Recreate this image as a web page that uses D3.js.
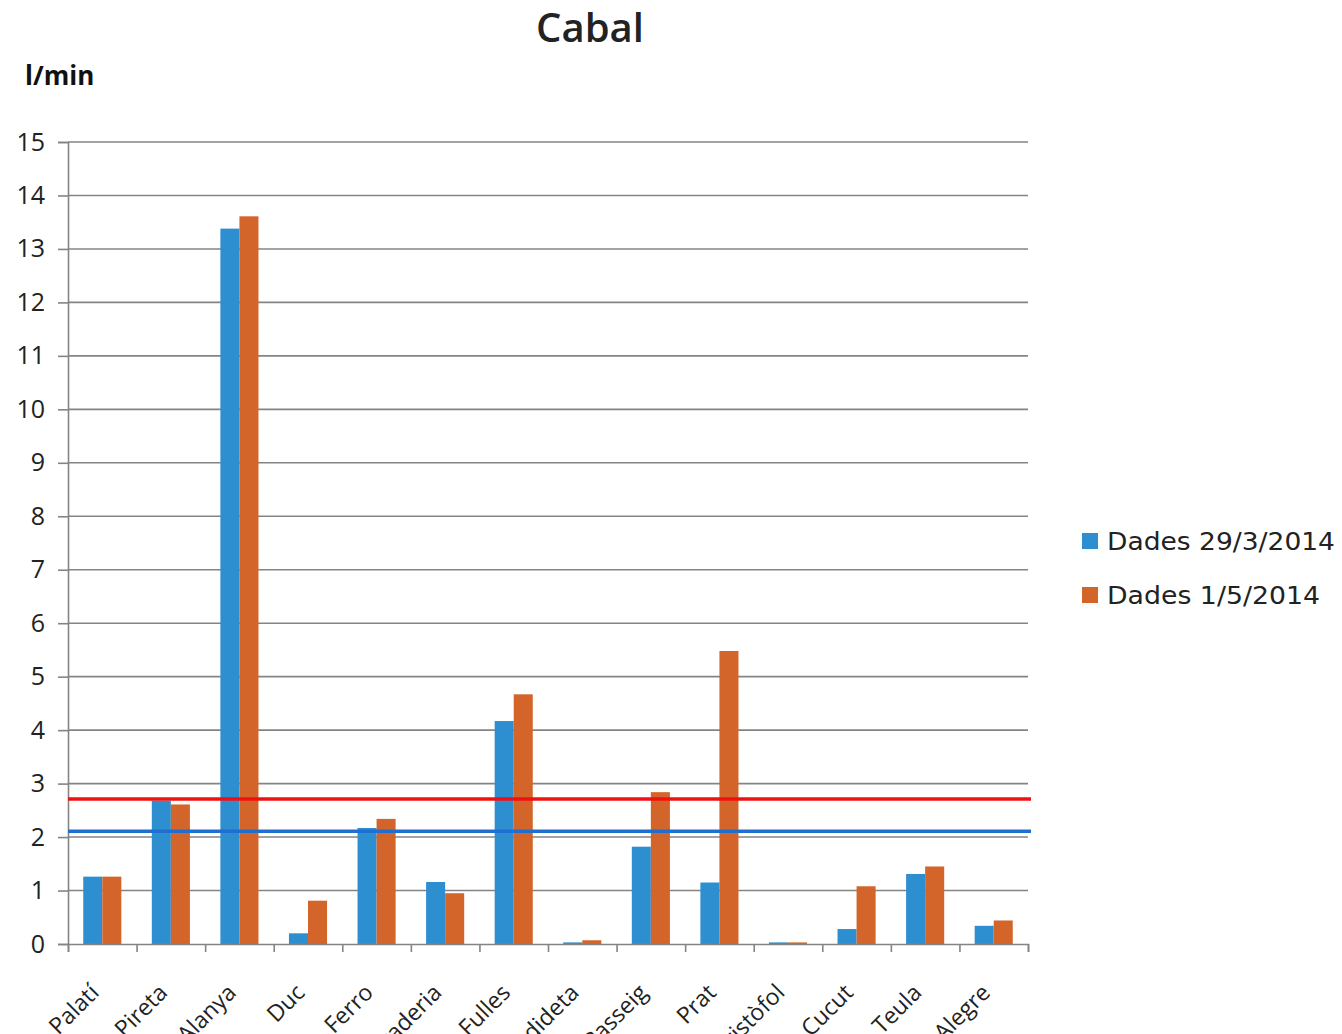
<!DOCTYPE html>
<html><head><meta charset="utf-8">
<script src="https://cdn.jsdelivr.net/npm/d3@7"></script>
<style>
html,body{margin:0;padding:0;background:#fff;overflow:hidden;}
svg{display:block;}
</style></head>
<body>
<svg id="c" width="1342" height="1034"></svg>
<script>
const categories = ["Palatí","Pireta","Alanya","Duc","Ferro","Bugaderia","Fulles","Candideta","Passeig","Prat","Cristòfol","Cucut","Teula","Alegre"];
const seriesNames = ["Dades 29/3/2014","Dades 1/5/2014"];
const values1 = [1.26,2.68,13.38,0.2,2.17,1.16,4.17,0.03,1.82,1.15,0.03,0.28,1.31,0.34];
const values2 = [1.26,2.61,13.61,0.81,2.34,0.95,4.67,0.07,2.84,5.48,0.03,1.08,1.45,0.44];
const refLines = [2.71,2.11];
const yTicks = [0,1,2,3,4,5,6,7,8,9,10,11,12,13,14,15];
const colors = ["#2E8FD0","#D4652A"];
const lineColors = ["#F01010","#1F6FD0"];

const svg = d3.select("#c");
const L=68, R=1028, T=142, B=944;
const y = d3.scaleLinear().domain([0,15]).range([B,T]);
const x0 = d3.scaleBand().domain(categories).range([L,R]).paddingInner(0).paddingOuter(0);
const x1 = d3.scaleBand().domain([0,1]).range([0,x0.bandwidth()]).paddingInner(0).paddingOuter(0.8);

// gridlines
svg.append("g").selectAll("line").data(yTicks.filter(d=>d>0)).join("line")
  .attr("x1",L).attr("x2",R).attr("y1",d=>y(d)).attr("y2",d=>y(d))
  .attr("stroke","#848484").attr("stroke-width",1.6);

// y axis
const yAxis = d3.axisLeft(y).tickValues(yTicks).tickSize(10).tickPadding(13).tickFormat(d3.format("d"));
const gy = svg.append("g").attr("transform",`translate(${L},0)`).call(yAxis);
gy.select(".domain").attr("stroke","#848484").attr("stroke-width",1.6);
gy.selectAll(".tick line").attr("stroke","#848484").attr("stroke-width",1.6);
gy.selectAll("text").attr("font-family","'Open Sans',sans-serif").attr("font-size",25).attr("fill","#222");

// bars
const data = categories.map((c,i)=>({c, v:[values1[i],values2[i]]}));
const groups = svg.append("g").selectAll("g").data(data).join("g")
  .attr("transform",d=>`translate(${x0(d.c)},0)`);
groups.selectAll("rect").data(d=>d.v.map((v,k)=>({v,k}))).join("rect")
  .attr("x",d=>x1(d.k)).attr("width",x1.bandwidth())
  .attr("y",d=>y(d.v)).attr("height",d=>y(0)-y(d.v))
  .attr("fill",d=>colors[d.k]);

// x axis
const xAxis = d3.axisBottom(d3.scaleLinear().domain([0,categories.length]).range([L,R]))
  .tickValues(d3.range(0,categories.length+1)).tickSize(8).tickFormat("");
const gx = svg.append("g").attr("transform",`translate(0,${B})`).call(xAxis);
gx.select(".domain").attr("stroke","#848484").attr("stroke-width",1.6);
gx.selectAll(".tick line").attr("stroke","#848484").attr("stroke-width",1.6);

svg.append("g").selectAll("text").data(categories).join("text")
  .attr("transform",d=>`translate(${x0(d)+x0.bandwidth()/2-2},${B+50}) rotate(-45)`)
  .attr("text-anchor","end")
  .attr("font-family","'Open Sans',sans-serif").attr("font-size",23).attr("fill","#222")
  .text(d=>d);

// reference lines
svg.append("g").selectAll("line").data(refLines).join("line")
  .attr("x1",L).attr("x2",R+3).attr("y1",d=>y(d)).attr("y2",d=>y(d))
  .attr("stroke",(d,i)=>lineColors[i]).attr("stroke-width",3.5);

// title
svg.append("text").attr("x",590).attr("y",42).attr("text-anchor","middle")
  .attr("font-family","'Open Sans',sans-serif").attr("font-size",40).attr("font-weight",600).attr("fill","#222").text("Cabal");
svg.append("text").attr("x",25).attr("y",85)
  .attr("font-family","'Open Sans',sans-serif").attr("font-size",26).attr("font-weight",700).attr("fill","#111").text("l/min");

// legend
const lg = svg.append("g").selectAll("g").data(seriesNames).join("g")
  .attr("transform",(d,i)=>`translate(1082,${533+i*54})`);
lg.append("rect").attr("width",16).attr("height",16).attr("fill",(d,i)=>colors[i]);
lg.append("text").attr("x",25).attr("y",17)
  .attr("font-family","'DejaVu Sans',sans-serif").attr("font-size",24).attr("fill","#222")
  .attr("textLength",(d,i)=>i===0?228:213).attr("lengthAdjust","spacingAndGlyphs")
  .text(d=>d);
</script>
</body></html>
